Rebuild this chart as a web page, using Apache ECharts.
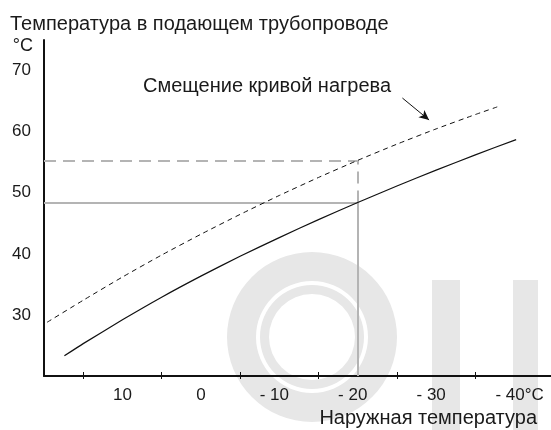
<!DOCTYPE html>
<html>
<head>
<meta charset="utf-8">
<script src="https://cdn.jsdelivr.net/npm/echarts@6/dist/echarts.min.js"></script>
<style>
  html, body { margin: 0; padding: 0; background: #ffffff; }
  #chart { width: 551px; height: 430px; }
</style>
</head>
<body>
<div id="chart"></div>
<script>
// Heating curve: flow temperature vs outdoor temperature
var outdoorBase = [17.4, 15, 10, 5, 0, -5, -10, -15, -20, -25, -30, -35, -40.2];
var flowBase    = [23.3, 25.3, 29.2, 32.9, 36.35, 39.6, 42.65, 45.6, 48.4, 51.1, 53.7, 56.2, 58.7];

// Same curve shifted upwards
var outdoorShifted = [19.6, 15, 10, 5, 0, -5, -10, -15, -20, -25, -30, -35, -37.9];
var flowShifted    = [28.8, 32.4, 36.2, 39.8, 43.2, 46.45, 49.55, 52.5, 55.3, 57.95, 60.45, 62.8, 64.1];

var designOutdoor = -20;
var baseAtDesign = 48.4;
var shiftedAtDesign = 55.3;

// Pointer from the caption to the shifted curve (outdoor, flow)
var pointerFrom = [-25.7, 65.5];
var pointerTo = [-29.1, 61.9];

// Axis ticks
var xLabelValues = [10, 0, -10, -20, -30, -40];
var yLabelValues = [30, 40, 50, 60, 70];

var FONT = 'Liberation Sans, Arial, sans-serif';
var TEXT = '#1a1a1a';
var GUIDE = '#b4b4b4';

function pairs(xs, ys) {
  return xs.map(function (x, i) { return [x, ys[i]]; });
}

// Negative labels are nudged so the digits sit under the tick value
function xLabel(v) {
  if (xLabelValues.indexOf(v) < 0) return '';
  if (v === -40) return '{g| }{t|- 40°C}';
  if (v < 0) return '{t|- ' + (-v) + '}{g| }';
  return '{t|' + v + '}';
}

var chart = echarts.init(document.getElementById('chart'), null, { renderer: 'canvas' });

var WM = '#e7e7e7';

chart.setOption({
  animation: false,
  backgroundColor: '#ffffff',
  textStyle: { fontFamily: FONT },
  title: [
    {
      text: 'Температура в подающем трубопроводе',
      left: 10, top: 14, padding: 0,
      textStyle: { fontSize: 20, fontWeight: 'normal', color: TEXT, fontFamily: FONT }
    },
    {
      text: 'Смещение кривой нагрева',
      left: 143, top: 76, padding: 0,
      textStyle: { fontSize: 20, fontWeight: 'normal', color: TEXT, fontFamily: FONT }
    },
    {
      text: 'Наружная температура',
      right: 14, top: 408, padding: 0,
      textStyle: { fontSize: 20, fontWeight: 'normal', color: TEXT, fontFamily: FONT }
    }
  ],
  // faint background emblem
  graphic: [
    { type: 'ring', z: -10, silent: true, shape: { cx: 312, cy: 337, r: 85, r0: 56 }, style: { fill: WM } },
    { type: 'ring', z: -10, silent: true, shape: { cx: 312, cy: 337, r: 52, r0: 43 }, style: { fill: WM } },
    { type: 'rect', z: -10, silent: true, shape: { x: 432, y: 280, width: 28, height: 150 }, style: { fill: WM } },
    { type: 'rect', z: -10, silent: true, shape: { x: 513, y: 280, width: 25, height: 150 }, style: { fill: WM } }
  ],
  grid: { left: 44, width: 549, top: 40, bottom: 54, containLabel: false, outerBoundsMode: 'none' },
  xAxis: [
    {
      type: 'value', min: -50, max: 20, interval: 10, inverse: true, position: 'bottom',
      axisLine: { show: true, onZero: false, lineStyle: { color: '#111', width: 2 } },
      axisTick: { show: false, inside: true },
      minorTick: { show: true, splitNumber: 2, length: 4, lineStyle: { color: '#111', width: 1 } },
      axisLabel: { show: false },
      splitLine: { show: false }, minorSplitLine: { show: false }
    },
    {
      type: 'value', min: -50, max: 20, interval: 10, inverse: true, position: 'bottom',
      axisLine: { show: false, onZero: false },
      axisTick: { show: false },
      minorTick: { show: true, splitNumber: 2, length: 3, lineStyle: { color: '#111', width: 1 } },
      axisLabel: {
        show: true, margin: 11, formatter: xLabel,
        rich: {
          t: { fontSize: 17, color: TEXT, fontFamily: FONT },
          g: { width: 10, fontSize: 17 }
        }
      },
      splitLine: { show: false }, minorSplitLine: { show: false }
    }
  ],
  yAxis: {
    type: 'value', min: 20, max: 75, interval: 10,
    name: '°C', nameLocation: 'end', nameGap: -6,
    nameTextStyle: { fontSize: 18, color: TEXT, fontFamily: FONT, align: 'right', verticalAlign: 'middle', padding: [0, 11, 0, 0] },
    axisLine: { show: true, onZero: false, lineStyle: { color: '#111', width: 2 } },
    axisTick: { show: false },
    axisLabel: {
      fontSize: 17, color: TEXT, fontFamily: FONT, margin: 13, padding: [4, 0, 0, 0],
      showMinLabel: false, showMaxLabel: false,
      formatter: function (v) { return yLabelValues.indexOf(v) >= 0 ? String(v) : ''; }
    },
    splitLine: { show: false }
  },
  series: [
    {
      name: 'base',
      type: 'line', xAxisIndex: 0, smooth: 0.2, showSymbol: false, symbol: 'none',
      data: pairs(outdoorBase, flowBase),
      lineStyle: { color: '#111', width: 1.2 },
      z: 5,
      markLine: {
        silent: true, symbol: ['none', 'none'], animation: false,
        label: { show: false },
        lineStyle: { color: GUIDE, width: 2, type: 'solid' },
        data: [
          [{ coord: [20, baseAtDesign] }, { coord: [designOutdoor, baseAtDesign] }],
          [{ coord: [designOutdoor, 20] }, { coord: [designOutdoor, baseAtDesign] }]
        ]
      }
    },
    {
      name: 'shifted',
      type: 'line', xAxisIndex: 0, smooth: 0.2, showSymbol: false, symbol: 'none',
      data: pairs(outdoorShifted, flowShifted),
      lineStyle: { color: '#111', width: 1, type: [5, 4] },
      z: 5,
      markLine: {
        silent: true, symbol: ['none', 'none'], animation: false,
        label: { show: false },
        lineStyle: { color: GUIDE, width: 2, type: [12, 7] },
        data: [
          [{ coord: [20, shiftedAtDesign] }, { coord: [designOutdoor, shiftedAtDesign] }],
          [{ coord: [designOutdoor, baseAtDesign] }, { coord: [designOutdoor, shiftedAtDesign] }],
          [
            { coord: pointerFrom, symbol: 'none', lineStyle: { color: '#111', width: 1, type: 'solid' } },
            { coord: pointerTo, symbol: 'arrow', symbolSize: [7, 10] }
          ]
        ]
      }
    }
  ]
});
</script>
</body>
</html>
